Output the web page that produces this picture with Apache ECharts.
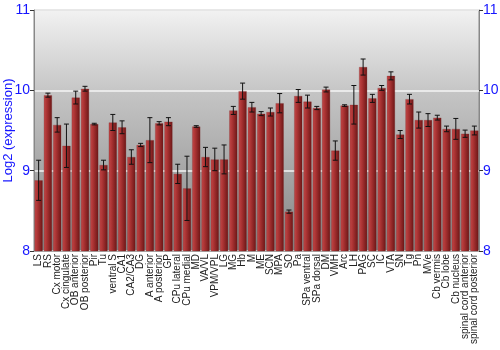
<!DOCTYPE html>
<html>
<head>
<meta charset="utf-8">
<script src="https://cdn.jsdelivr.net/npm/echarts@6/dist/echarts.min.js"></script>
<style>
  html, body { margin: 0; padding: 0; background: #fff; }
  #main { width: 500px; height: 350px; }
</style>
</head>
<body>
<div id="main"></div>
<script>
var regions = ["LS", "RS", "Cx motor", "Cx cingulate", "OB anterior", "OB posterior", "Pir", "Tu",
    "ventral S", "CA1", "CA2/CA3", "DG", "A anterior", "A posterior", "GP", "CPu lateral", "CPu medial",
    "MD", "VA/VL", "VPM/VPL", "LG", "MG", "Hb", "M", "ME", "SCN", "MPA", "SO", "Pa", "SPa ventral",
    "SPa dorsal", "DM", "VMH", "Arc", "LH", "PAG", "SC", "IC", "VTA", "SN", "Tg", "Pn", "MVe",
    "Cb vermis", "Cb lobe", "Cb nucleus", "spinal cord anterior", "spinal cord posterior"];

var expression = [8.88, 9.94, 9.57, 9.31, 9.91, 10.02, 9.58, 9.07,
    9.60, 9.54, 9.17, 9.32, 9.38, 9.59, 9.61, 8.96, 8.78,
    9.55, 9.17, 9.14, 9.14, 9.75, 9.99, 9.79, 9.71, 9.73, 9.84, 8.49, 9.93, 9.86,
    9.78, 10.01, 9.25, 9.81, 9.82, 10.29, 9.90, 10.03, 10.18, 9.45, 9.89, 9.63, 9.63,
    9.66, 9.52, 9.52, 9.46, 9.50];

// half width of each error bar
var errors = [0.25, 0.025, 0.09, 0.27, 0.08, 0.03, 0.01, 0.06,
    0.10, 0.08, 0.09, 0.02, 0.28, 0.02, 0.05, 0.12, 0.40,
    0.01, 0.12, 0.14, 0.18, 0.05, 0.10, 0.06, 0.025, 0.05, 0.12, 0.02, 0.08, 0.08,
    0.02, 0.03, 0.12, 0.01, 0.24, 0.10, 0.05, 0.03, 0.05, 0.05, 0.06, 0.10, 0.08,
    0.03, 0.035, 0.13, 0.045, 0.055];

var yTicks = [8, 9, 10, 11];

var errData = [];
for (var i = 0; i < regions.length; i++) {
    errData.push([i, expression[i] - errors[i], expression[i] + errors[i]]);
}

var chart = echarts.init(document.getElementById('main'));

var blue = '#1515ff';

function yAxisCfg(pos) {
    return {
        type: 'value',
        position: pos,
        min: yTicks[0],
        max: yTicks[yTicks.length - 1],
        interval: 1,
        axisLine: { show: true, lineStyle: { color: '#888', width: 1 } },
        axisTick: { show: true, length: 4, lineStyle: { color: '#333' } },
        axisLabel: { color: blue, fontSize: 14, margin: 4, fontFamily: 'Liberation Sans' },
        splitLine: { show: pos === 'left', lineStyle: { color: '#f4f4f4', width: 1.5 } }
    };
}

var leftAxis = yAxisCfg('left');
leftAxis.name = 'Log2 (expression)';
leftAxis.nameLocation = 'middle';
leftAxis.nameGap = 19;
leftAxis.nameMoveOverlap = false;
leftAxis.nameTextStyle = { color: blue, fontSize: 13, fontFamily: 'Liberation Sans' };

var option = {
    animation: false,
    grid: {
        left: 34, right: 21, top: 10, bottom: 99,
        outerBoundsMode: 'none',
        containLabel: false,
        show: true,
        borderWidth: 1,
        borderColor: '#888',
        backgroundColor: new echarts.graphic.LinearGradient(0, 0, 0, 1, [
            { offset: 0, color: '#f2f2f2' },
            { offset: 0.35, color: '#c4c4c4' },
            { offset: 1, color: '#868686' }
        ])
    },
    xAxis: {
        type: 'category',
        data: regions,
        axisLine: { show: true, lineStyle: { color: '#aaa' } },
        axisTick: { show: false },
        axisLabel: {
            interval: 0, rotate: 90, fontSize: 10, margin: 3,
            color: '#222', fontFamily: 'Liberation Sans'
        }
    },
    yAxis: [leftAxis, yAxisCfg('right')],
    series: [{
        type: 'bar',
        data: expression,
        barCategoryGap: '12%',
        itemStyle: {
            color: new echarts.graphic.LinearGradient(0, 0, 1, 0, [
                { offset: 0, color: '#c24848' },
                { offset: 0.35, color: '#ac3434' },
                { offset: 1, color: '#6c1616' }
            ]),
            borderColor: 'rgba(120,30,30,0.5)',
            borderWidth: 0.5
        }
    }, {
        type: 'custom',
        data: errData,
        z: 10,
        renderItem: function (params, api) {
            var x = api.value(0);
            var lo = api.coord([x, api.value(1)]);
            var hi = api.coord([x, api.value(2)]);
            var half = 2.5;
            var st = { stroke: '#111', lineWidth: 1 };
            return {
                type: 'group',
                children: [
                    { type: 'line', shape: { x1: hi[0], y1: hi[1], x2: lo[0], y2: lo[1] }, style: st },
                    { type: 'line', shape: { x1: hi[0] - half, y1: hi[1], x2: hi[0] + half, y2: hi[1] }, style: st },
                    { type: 'line', shape: { x1: lo[0] - half, y1: lo[1], x2: lo[0] + half, y2: lo[1] }, style: st }
                ]
            };
        }
    }]
};

chart.setOption(option);
</script>
</body>
</html>
